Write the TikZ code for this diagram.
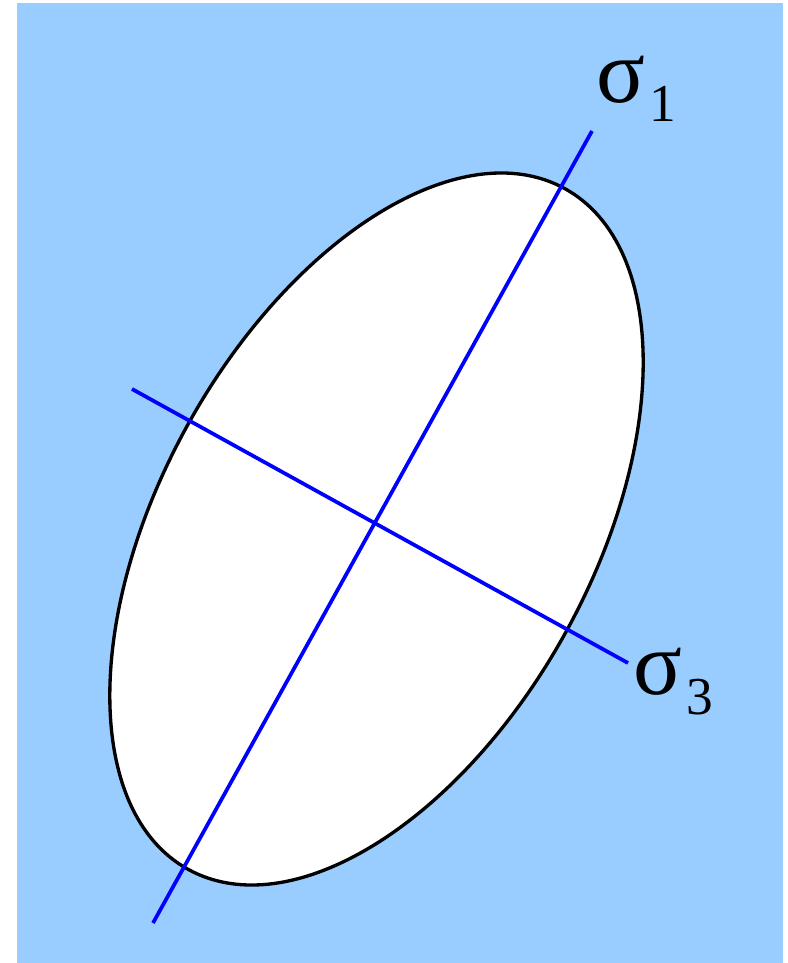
\documentclass[tikz,border=0pt]{standalone}
\usepackage{fontspec}
\setmainfont{Liberation Serif}
\definecolor{bgblue}{HTML}{99CCFF}
\definecolor{axisblue}{HTML}{0000FF}
\tikzset{
  axisline/.style={draw=axisblue, line width=2.8pt},
  outline/.style={draw=black, line width=2.5pt, fill=white},
  siglabel/.style={inner sep=0pt, anchor=base west, font=\fontsize{68}{68}\selectfont}
}
\begin{document}
\begin{tikzpicture}[x=0.75pt,y=-0.75pt]
\useasboundingbox (0,0) rectangle (788,963);
\fill[white] (0,0) rectangle (788,963);
\fill[bgblue] (17,3) rectangle (783,963);
\coordinate (c) at (376.5,529);
\draw[outline, rotate around={61:(c)}] (c) ellipse [x radius=291.75pt, y radius=161.7pt];
\coordinate (a1) at (153,923);
\coordinate (a2) at (592,131);
\coordinate (b1) at (132,389);
\coordinate (b2) at (628,663);
\draw[axisline] (a1) -- (a2);
\draw[axisline] (b1) -- (b2);
\node[siglabel] (s1) at (596,103) {σ\kern3pt\raisebox{-14pt}{\fontsize{40}{40}\selectfont 1}};
\node[siglabel] (s3) at (633,694) {σ\kern3pt\raisebox{-15pt}{\fontsize{40}{40}\selectfont 3}};
\end{tikzpicture}
\end{document}
